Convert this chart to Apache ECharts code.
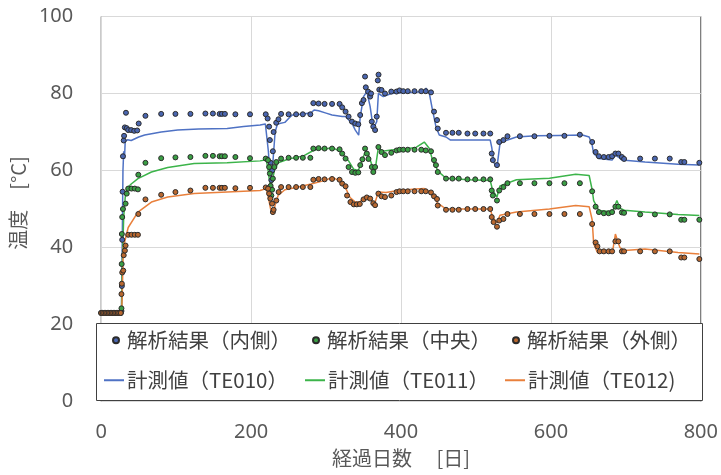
<!DOCTYPE html>
<html><head><meta charset="utf-8">
<script src="https://cdn.jsdelivr.net/npm/echarts@6/dist/echarts.min.js"></script>
<style>html,body{margin:0;padding:0;background:#fff}#c{width:721px;height:475px}</style>
</head><body><div id="c"></div>
<script>
const xTicks = [0, 200, 400, 600, 800];
const yTicks = [0, 20, 40, 60, 80, 100];
const seriesNames = ['解析結果（内側）','解析結果（中央）','解析結果（外側）','計測値（TE010）','計測値（TE011）','計測値（TE012)'];

const flat = [[0,23],[2,23],[4,23],[6,23],[8,23],[10,23],[12,23],[14,23],[16,23],[18,23],[20,23],[22,23],[24,23],[26,23]];

const resultInner = flat.concat([[27,23.5],[27.5,30],[28,42],[28.5,54.5],[29,63.7],[30,67.8],[30.5,69],[31.5,71.2],[33,75],[34,71],[36,70.5],[40,70.5],[44,70.3],[48,70.4],[50,72.2],[59,74.2],[80,74.7],[99,74.7],[119,74.7],[139,74.8],[149,74.8],[158,74.7],[161,74.7],[165,74.7],[179,74.6],[198.5,74.6],[219.5,74.6],
[222,73.5],[224,71.4],[225,67.9],[226,62],[227,57.5],[228,60],[229,65],[230,70],[233.5,72.4],[236.5,73.3],[240,74.7],[250,74.6],[260,74.6],[269,74.6],[279,74.6],[283,77.5],[290,77.4],[298,77.3],[308,77.3],[318,77.3],[321.5,76.4],[326,75.3],[330,74],[334.5,72.7],[339,72.2],[343,72],[345.5,74.4],[347.8,77.5],[350,78.3],[352,84.4],[353,81.6],[356,80.5],[358.8,79.2],[360,80],[361,72.7],[363,71.4],[365.4,70.5],[367.6,74],[369,83.4],[370,84.9],[371,81],[374,80.9],[378.6,80],[387,80.5],[394,80.5],[398,80.8],[403,80.6],[409,80.6],[418,80.6],[427,80.6],[433,80.6],[440,80.3],[444,75.3],[448,73.1],[449,70.9],[460,69.8],[468.6,69.8],[477,69.8],[488.6,69.6],[499,69.6],[510,69.6],[519,69.6],[521,64.4],[522.5,62.7],[528,61.4],[531,67.4],[536.6,67.9],[542,68.9],[558.6,68.9],[578,68.9],[598,69],[618,69],[638.6,69.3],[655,67.4],[659.6,64.8],[664,63.7],[670.6,63.5],[677,63.5],[681.6,63.7],[686,64.4],[690,64.4],[694.7,63.5],[697.6,63],[719,63.1],[738.7,63.1],[758.5,63.1],[773.8,62.2],[778,62.2],[798,62]]);

const resultMiddle = flat.concat([[27,24.2],[27.3,35.7],[27.5,43.5],[28,47.9],[29,50],[32.5,51.4],[34,54],[36,55.3],[40.4,55.3],[44.8,55.3],[49,55.1],[49.5,58.9],[59,62],[80,63.2],[99,63.4],[119,63.5],[139,63.8],[149,63.8],[158,63.7],[161,63.7],[165,63.7],[179,63.5],[198.5,63.2],[219.5,63.1],[222.5,62.7],[224,60.9],[225,59.2],[226,56],[227,53.5],[228,55],[229,57.9],[231,60.9],[233.6,62.2],[240,63.1],[250,63.3],[260,63.3],[269,63.3],[279,63.3],[283,65.7],[290,65.8],[298,65.7],[308,65.7],[318,65.5],[321.5,64.4],[326,63.1],[330,60.9],[334.6,59.6],[339,59.4],[343,59.5],[345.6,61.4],[348.5,62.9],[352,65.7],[354.4,64.4],[356.6,63],[361,60.9],[363,59.6],[365.4,60.9],[369.8,66.1],[374,64.8],[378.6,64],[387,64.6],[394,65.2],[398,65.4],[403,65.4],[409,65.4],[418,65.4],[427,65.4],[433,65.2],[440,65],[444,62.7],[446.6,61.4],[449,59.6],[460,57.9],[468.6,57.9],[477,57.9],[488.6,57.7],[499,57.7],[510,57.7],[519,57.7],[521,54.8],[522.5,53.5],[528,52.2],[531,54.8],[536.6,55.7],[542,56.7],[558.6,56.7],[578,56.7],[598,56.7],[618,56.7],[638.6,56.7],[655,54.6],[659.6,50.6],[664,49.2],[670.6,48.9],[677,48.9],[681.6,49.2],[686,50.6],[690,50.6],[694.7,49.1],[697.6,49],[719,48.6],[738.7,48.6],[758.5,48.6],[773.8,47.2],[778,47.2],[798,47.2]]);

const resultOuter = flat.concat([[27,27.9],[27.5,30.6],[28,33.5],[29.4,34],[30,38],[31.6,39.2],[32.5,40.5],[36,43.3],[40.4,43.3],[44.8,43.3],[49,43.3],[49.5,48.7],[59,52.5],[80,53.7],[99,54.4],[119,54.8],[139,55.5],[149,55.5],[158,55.5],[161,55.5],[165,55.5],[179,55.4],[198.5,55.5],[219.5,55.6],[222.6,55.3],[224,54],[225.6,52.7],[228,51.4],[229,49.2],[230,49.8],[233.6,52.2],[236.7,54.4],[240,55.7],[250,55.7],[260,55.7],[269,55.7],[279,55.7],[283,57.6],[290,57.8],[298,57.7],[308,57.8],[318,57.6],[321.5,56.6],[326,55.9],[328,53.5],[332.5,51.8],[337,51.2],[341,51.2],[345,51.3],[350,52.5],[354.4,53],[358.8,52.7],[363,51.5],[365.4,51],[369.8,54],[374,53.3],[378.6,53.1],[387,53.5],[394,54.4],[398,54.6],[403,54.6],[409,54.6],[418,54.6],[427,54.6],[433,54.6],[440,54.3],[444,53.3],[448,52.6],[449,50.9],[460,49.8],[468.6,49.8],[477,49.8],[488.6,50],[499,50],[510,50],[519,50],[521,47.9],[523.5,46.6],[528,45.4],[531,47],[536.6,47.4],[542,48.7],[558.6,48.7],[578,48.7],[598,48.7],[618,48.7],[638.6,48.7],[655,46.1],[659.6,41.3],[662,40.3],[665,39],[670.6,39],[677,39],[681.6,39],[686,41.6],[690,41.6],[694.7,39],[697.6,39],[719,39],[738.7,39],[758.5,39],[773.8,37.4],[778,37.4],[798,37]]);

const measTE010 = [[0,23],[27,23],[28,40],[29,60],[30,65],[31,63],[32,67.5],[35,68],[40,67.8],[50,68.7],[58,69.2],[80,70],[102,70.5],[130,70.8],[168,70.9],[190,71.4],[212,71.8],[219,72.1],[221,72],[223,65],[225,59],[227,58],[229,62],[232,70],[235,72],[238,72.2],[245,72.5],[250,73.5],[255,74.4],[270,74.7],[280,75],[284,75.7],[290,75.5],[300,74.9],[308,74.4],[321.5,74],[326,74],[334.6,72.2],[339,70.5],[343.5,69.2],[345.6,74],[350,79.2],[354.4,80.5],[358.8,76.6],[363,70.9],[367.6,72.7],[369.8,80],[376.4,79.2],[387,80],[400,80.2],[420,80.3],[431,80.5],[433.4,81.4],[437.8,80],[442,75.7],[446.6,71.4],[451,69.2],[460,68.7],[466,67.9],[490,67.9],[519,67.9],[521,66],[524,62],[528,60.9],[532,67],[537,67.6],[554,68.7],[580,69],[610,69.1],[642,69.2],[651,68.7],[655,66.6],[657,64.4],[664,63.1],[681.6,62.7],[686,64],[690,63.5],[694.7,62.7],[725.5,62.2],[769.5,61.6],[798,61.4]];

const measTE011 = [[0,23],[27,23],[28,35],[30,48],[32,53],[34,55.3],[40,56.5],[49,57.9],[67,59.6],[88.7,60.8],[124,61.8],[168,62],[212,62.5],[220,62.8],[222,61],[224,58],[226,56],[228,57],[231,60],[236,62],[250,63],[270,63.8],[283,65.2],[290,65.6],[300,65.6],[308,66],[320,64.8],[330,62.5],[337,60.3],[343,60],[348,62.5],[352,64.8],[356,64.5],[361,61.5],[365,59.6],[369.8,66],[375,65],[387,65.3],[400,65.5],[420,66],[431,67.4],[437.8,65.7],[442,62.7],[449,60],[453,59.2],[460,58],[490,57.6],[519,57.4],[522,55],[528,53.1],[532,56],[554,57.6],[598,58],[633,59],[651,58.7],[655,55],[657,52.2],[664,49.6],[682,49.3],[688,52.2],[692,50.2],[698,49.7],[725.5,49.2],[769.5,48.6],[798,48.3]];

const measTE012 = [[0,23],[27,23],[28,27],[29.4,40],[36,45.2],[49,49.2],[67,51.8],[88.7,53.1],[124,54],[168,54.4],[212,54.8],[220,55.3],[223,53],[226,50],[229,48.5],[232,51],[236,53.5],[245,55],[260,55.6],[280,56.5],[300,57.5],[308,58.3],[318,57.3],[326,55.5],[332,53],[339,51.8],[345,51.8],[352,53.3],[356,53],[361,52.2],[365,51.5],[369.8,54.4],[380,54.3],[396,54.8],[420,55.2],[431,55.3],[437.8,54.5],[444,53],[449,51.5],[460,50],[490,50],[519,50],[522,48],[528,46.4],[532,48.4],[554,49.2],[598,50],[633,50.9],[651,50.6],[655,47.2],[657,41],[662,38.7],[682,38.7],[686,43.5],[692,40],[698,39.2],[725.5,39.6],[769.5,38.7],[798,38.3]];

const chart = echarts.init(document.getElementById('c'), null, {renderer:'canvas'});
const cjk = '"Noto Sans CJK JP", "Noto Sans", sans-serif';
function leg(name, left, top, isLine){
  return {data:[name], left:left, top:top, padding:0, selectedMode:false, z:10,
    icon: isLine ? 'rect' : 'circle', itemWidth: isLine ? 20 : 6, itemHeight: isLine ? 2 : 6,
    textStyle: {fontSize:20.5, color:'#404040', fontFamily:cjk, padding: isLine ? [0,0,0,-2] : [0,0,0,3]}};
}
function scat(name, data, fill){
  return {name:name, type:'scatter', data:data, symbol:'circle', symbolSize:5, z:3,
    itemStyle:{color:fill, borderColor:'#2b2b2b', borderWidth:1, opacity:1}};
}
function line(name, data, col){
  return {name:name, type:'line', data:data, showSymbol:false, z:2,
    lineStyle:{color:col, width:1.5}, itemStyle:{color:col}};
}
chart.setOption({
  animation:false,
  grid:{left:96, right:18, top:16.5, bottom:73.5, show:true, borderColor:'#404040', borderWidth:1, backgroundColor:'transparent'},
  xAxis:{type:'value', min:xTicks[0], max:xTicks[xTicks.length-1], interval:200,
    name:'経過日数　 [日]', nameLocation:'middle', nameGap:47,
    nameTextStyle:{fontSize:20, color:'#595959', fontFamily:cjk},
    axisLine:{show:false}, axisTick:{show:false},
    axisLabel:{fontSize:20, color:'#595959', margin:21, fontFamily:'"Noto Sans", sans-serif'},
    splitLine:{lineStyle:{color:'#d9d9d9', width:1}}},
  yAxis:{type:'value', min:yTicks[0], max:yTicks[yTicks.length-1], interval:20,
    name:'温度　[°C]', nameLocation:'middle', nameGap:68,
    nameTextStyle:{fontSize:20, color:'#595959', fontFamily:cjk, padding:[0,0,0,12]},
    axisLine:{show:false}, axisTick:{show:false},
    axisLabel:{fontSize:20, color:'#595959', margin:28, fontFamily:'"Noto Sans", sans-serif'},
    splitLine:{lineStyle:{color:'#d9d9d9', width:1}}},
  graphic:{elements:[{type:'rect', z:5, shape:{x:96.5, y:323.5, width:606, height:77}, style:{fill:'#fff', stroke:'#404040', lineWidth:1}}]},
  legend:[
    leg(seriesNames[0], 112, 330, false), leg(seriesNames[1], 312, 330, false), leg(seriesNames[2], 512, 330, false),
    leg(seriesNames[3], 104, 370, true), leg(seriesNames[4], 305, 370, true), leg(seriesNames[5], 505, 370, true)
  ],
  series:[
    line(seriesNames[3], measTE010, '#4f72c4'),
    line(seriesNames[4], measTE011, '#3cb44a'),
    line(seriesNames[5], measTE012, '#e9803c'),
    scat(seriesNames[0], resultInner, '#4a66b0'),
    scat(seriesNames[1], resultMiddle, '#3a9e44'),
    scat(seriesNames[2], resultOuter, '#b8672f')
  ]
});
</script></body></html>
